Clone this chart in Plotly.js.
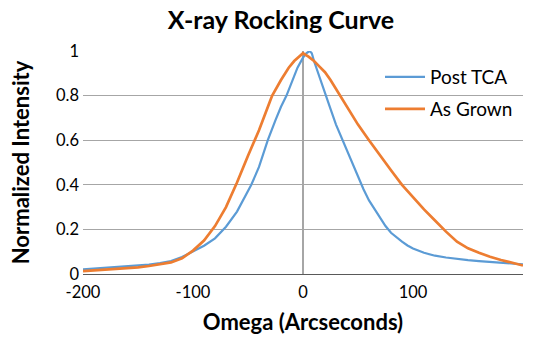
<!DOCTYPE html>
<html>
<head>
<meta charset="utf-8">
<script src="https://cdn.plot.ly/plotly-3.0.1.min.js"></script>
<style>html,body{margin:0;padding:0;background:#fff;}#chart{width:535px;height:339px;}</style>
</head>
<body>
<div id="chart"></div>
<script>
var seriesNames = ["Post TCA", "As Grown"];
var postTcaX = [-200,-190,-180,-170,-160,-150,-140,-130,-120,-110,-100,-90,-80,-72,-70,-60,-50,-47,-40,-32,-25,-20,-15,-10,-5,0,3,6,8,10,13,16,20,25,30,36,40,45,50,55,60,65,70,75,80,85,90,95,100,110,120,130,140,150,160,170,180,190,200];
var postTcaY = [0.021,0.024,0.027,0.030,0.033,0.037,0.042,0.049,0.058,0.076,0.100,0.127,0.160,0.200,0.212,0.280,0.370,0.400,0.480,0.600,0.690,0.750,0.800,0.860,0.925,0.970,0.990,1.000,0.990,0.955,0.910,0.870,0.810,0.740,0.670,0.600,0.550,0.490,0.430,0.380,0.330,0.290,0.250,0.215,0.185,0.163,0.145,0.128,0.114,0.095,0.082,0.074,0.067,0.062,0.058,0.054,0.050,0.047,0.043];
var asGrownX = [-200,-190,-180,-170,-160,-150,-140,-130,-120,-110,-100,-90,-82,-80,-70,-60,-50,-44,-40,-30,-28,-20,-13,-8,-3,0,5,10,15,20,25,30,33,40,50,60,70,80,90,100,110,120,130,140,150,160,170,180,190,200];
var asGrownY = [0.013,0.016,0.019,0.022,0.026,0.030,0.036,0.043,0.052,0.070,0.105,0.150,0.200,0.215,0.300,0.410,0.530,0.600,0.645,0.775,0.800,0.870,0.925,0.955,0.975,0.990,0.975,0.955,0.930,0.905,0.870,0.830,0.800,0.745,0.670,0.600,0.530,0.465,0.400,0.345,0.290,0.240,0.190,0.145,0.115,0.095,0.077,0.063,0.051,0.038];
var xTicks = [-200,-100,0,100,200];
var yTicks = [0,0.2,0.4,0.6,0.8,1];
var yTickText = ["0","0.2","0.4","0.6","0.8","1"];

var font = "Lato, 'Open Sans', sans-serif";
var traces = [
  {x: postTcaX, y: postTcaY, type: "scatter", mode: "lines", name: seriesNames[0],
   line: {color: "#5B9BD5", width: 2.2}, legend: "legend"},
  {x: asGrownX, y: asGrownY, type: "scatter", mode: "lines", name: seriesNames[1],
   line: {color: "#ED7D31", width: 2.7}, legend: "legend2"}
];
var layout = {
  width: 535, height: 339,
  margin: {l: 83, r: 12, t: 51, b: 65},
  paper_bgcolor: "#fff", plot_bgcolor: "#fff",
  font: {family: font, size: 16.5, color: "#000"},
  title: {text: "<b>X-ray Rocking Curve</b>", font: {family: font, size: 25, color: "#000"}, xref: "paper", x: 0.45, xanchor: "center", yref: "container", y: 0.94, yanchor: "middle"},
  xaxis: {range: [-200, 200], tickvals: xTicks, ticktext: xTicks.map(String), showgrid: false,
          zeroline: true, zerolinecolor: "#A6A6A6", zerolinewidth: 1.3,
          showline: true, linecolor: "#595959", linewidth: 1.3, ticks: "", ticklabelstandoff: 3,
          tickfont: {family: font, size: 16.5, color: "#000"},
          title: {text: "<b>Omega (Arcseconds)</b>", font: {family: font, size: 22, color: "#000"}, standoff: 13}},
  yaxis: {range: [0, 1], tickvals: yTicks, ticktext: yTickText, showgrid: true,
          gridcolor: "#A6A6A6", gridwidth: 1.1, zeroline: false, showline: false, ticks: "", ticklabelstandoff: 3,
          tickfont: {family: font, size: 16.5, color: "#000"},
          title: {text: "<b>Normalized Intensity</b>", font: {family: font, size: 22, color: "#000"}, standoff: 20}},
  showlegend: true,
  legend: {x: 0.675, y: 0.883, xanchor: "left", yanchor: "middle", bgcolor: "rgba(0,0,0,0)", font: {family: font, size: 19, color: "#000"}, itemwidth: 40},
  legend2: {x: 0.675, y: 0.74, xanchor: "left", yanchor: "middle", bgcolor: "rgba(0,0,0,0)", font: {family: font, size: 19, color: "#000"}, itemwidth: 40}
};
Plotly.newPlot("chart", traces, layout, {displayModeBar: false, staticPlot: true});
</script>
</body>
</html>
